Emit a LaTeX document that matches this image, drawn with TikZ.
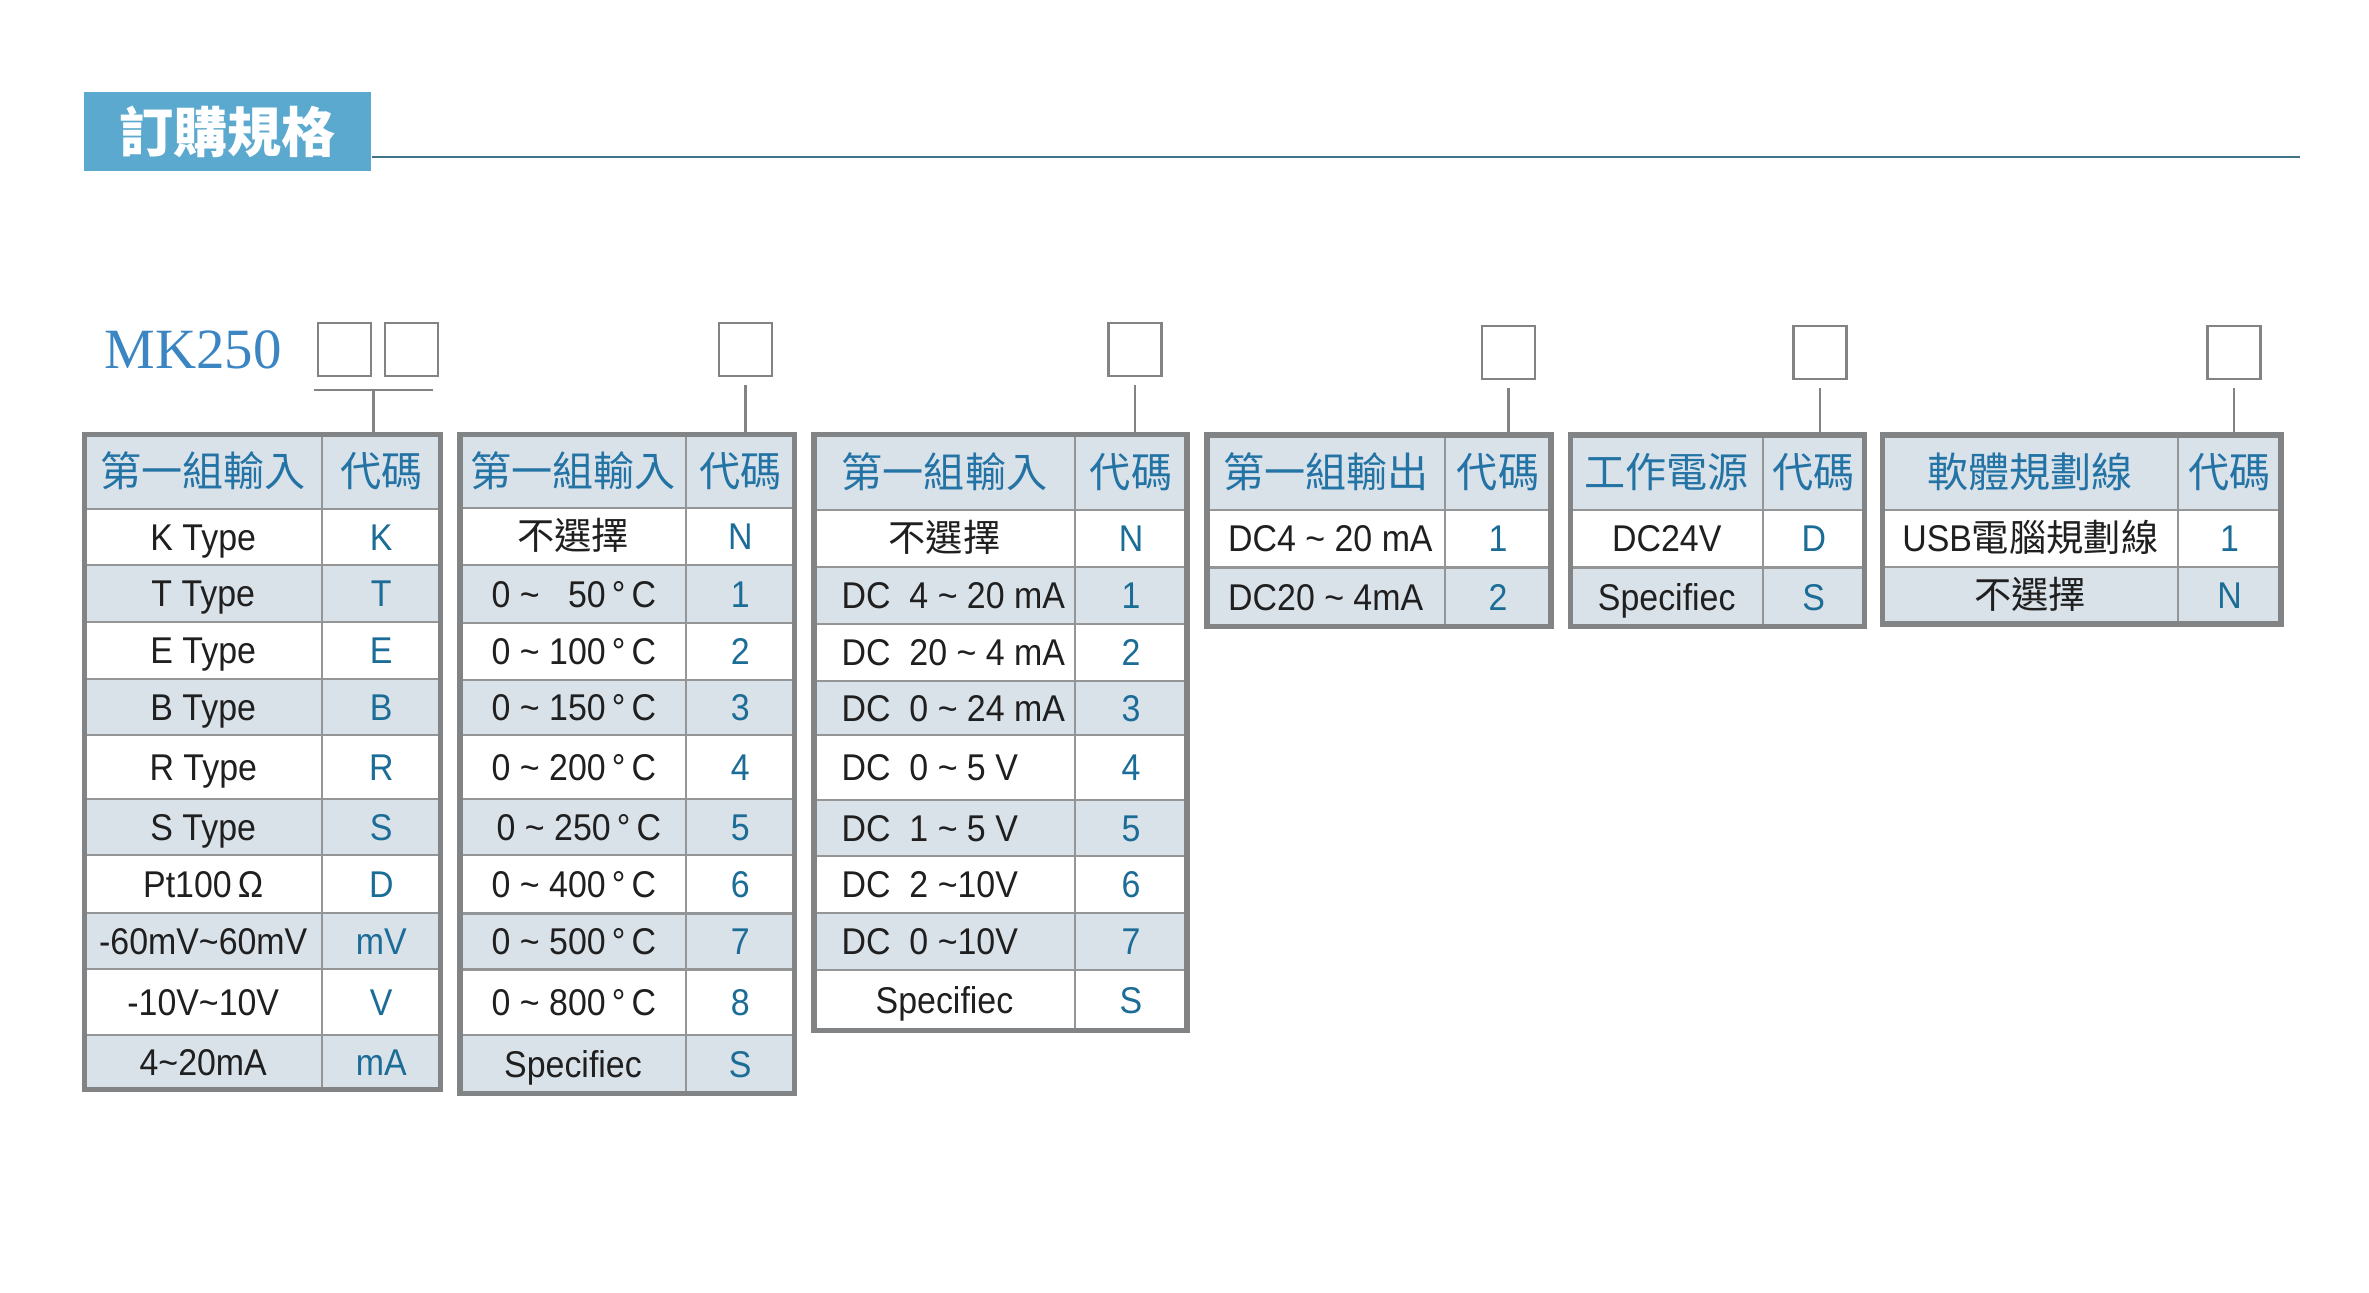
\documentclass[tikz,border=0pt]{standalone}
\usepackage{fontspec}
\setmainfont{Liberation Sans}[FakeStretch=0.91]
\newfontfamily\cjk{Noto Sans CJK TC}
\newfontfamily\mkfont{Liberation Serif}
\definecolor{titleblue}{HTML}{5CA9CF}
\definecolor{ruleteal}{HTML}{3F7488}
\definecolor{mkblue}{HTML}{3A85C2}
\definecolor{headblue}{HTML}{2373A5}
\definecolor{codeblue}{HTML}{1B6C96}
\definecolor{shade}{HTML}{D9E1E9}
\definecolor{framegray}{HTML}{818385}
\definecolor{gridgray}{HTML}{939597}
\newcommand{\tld}{\textasciitilde}
% one table row: name, fill, top, bottom, text x, anchor, text, code
\newcommand{\rowbox}[8]{%
  \filldraw[cellline, fill=#2] (\xl,#3) rectangle (\xm,#4);
  \filldraw[cellline, fill=#2] (\xm,#3) rectangle (\xr,#4);
  \node[datatext, anchor=#6] (#1) at (#5,{(#3+#4)/2+0.13}) {#7};
  \node[codetext] (#1c) at ({(\xm+\xr)/2},{(#3+#4)/2+0.13}) {#8};}
\newcommand{\crow}[6]{\rowbox{#1}{#2}{#3}{#4}{{(\xl+\xm)/2}}{base}{#5}{#6}}
\newcommand{\lrow}[6]{\rowbox{#1}{#2}{#3}{#4}{{\xl+\tpad}}{base west}{#5}{#6}}
\newcommand{\thead}[4]{%
  \filldraw[cellline, fill=shade] (\xl,#2) rectangle (\xm,#3);
  \filldraw[cellline, fill=shade] (\xm,#2) rectangle (\xr,#3);
  \node[headtext] (#1) at ({(\xl+\xm)/2},{(#2+#3)/2+0.15}) {#4};
  \node[headtext] (#1c) at ({(\xm+\xr)/2},{(#2+#3)/2+0.15}) {代碼};}

\begin{document}
\begin{tikzpicture}[y=-1cm,
    cellline/.style={draw=gridgray, line width=0.6pt},
    tblframe/.style={draw=framegray, line width=1.45pt},
    conn/.style={draw=framegray, line width=0.6pt},
    slot/.style={draw=framegray, line width=0.6pt, minimum size=0.53cm, inner sep=0},
    datatext/.style={inner sep=0, text=black!88, font=\fontsize{10.6}{12}\selectfont},
    codetext/.style={inner sep=0, anchor=base, text=codeblue, font=\fontsize{10.6}{12}\selectfont},
    headtext/.style={inner sep=0, anchor=base, text=headblue, font=\cjk\fontsize{11.7}{13}\selectfont},
    titlebox/.style={fill=titleblue, text=white, minimum width=2.87cm, minimum height=0.79cm,
      inner sep=0, font=\cjk\bfseries\fontsize{15.4}{18}\selectfont}]
  \useasboundingbox (0,0) rectangle (23.69,12.93);

  % heading
  \node[titlebox] (title) at (2.275,1.315) {訂購規格};
  \coordinate (ruleend) at (23.00,1.57);
  \draw[ruleteal, line width=0.45pt] (title.east |- ruleend) -- (ruleend);

  % model code and slots
  \node[inner sep=0, anchor=base west, text=mkblue, font=\mkfont\fontsize{16.2}{19}\selectfont]
    (model) at (1.04,3.68) {MK250};
  \node[slot] (b1) at (3.445,3.495) {};
  \node[slot] (b2) at (4.115,3.495) {};
  \node[slot] (b3) at (7.455,3.495) {};
  \node[slot] (b4) at (11.35,3.495) {};
  \node[slot] (b5) at (15.085,3.525) {};
  \node[slot] (b6) at (18.20,3.525) {};
  \node[slot] (b7) at (22.34,3.525) {};

  % table 1
  \def\xl{0.845}\def\xm{3.22}\def\xr{4.405}
  \thead{t1h}{4.345}{5.09}{第一組輸入}
  \crow{t1k}{white}{5.09}{5.65}{K Type}{K}
  \crow{t1t}{shade}{5.65}{6.22}{T Type}{T}
  \crow{t1e}{white}{6.22}{6.79}{E Type}{E}
  \crow{t1b}{shade}{6.79}{7.35}{B Type}{B}
  \crow{t1r}{white}{7.35}{7.99}{R Type}{R}
  \crow{t1s}{shade}{7.99}{8.55}{S Type}{S}
  \crow{t1d}{white}{8.55}{9.13}{Pt100\,Ω}{D}
  \crow{t1mv}{shade}{9.13}{9.69}{-60mV\tld60mV}{mV}
  \crow{t1v}{white}{9.69}{10.35}{-10V\tld10V}{V}
  \crow{t1ma}{shade}{10.35}{10.895}{4\tld20mA}{mA}
  \draw[tblframe] (\xl,4.345) rectangle (\xr,10.895);
  \coordinate (t1top) at (3.735,4.345);

  % table 2
  \def\xl{4.60}\def\xm{6.86}\def\xr{7.945}\def\tpad{0.31}
  \thead{t2h}{4.345}{5.08}{第一組輸入}
  \crow{t2n}{white}{5.08}{5.65}{\cjk 不選擇}{N}
  \lrow{t2a}{shade}{5.65}{6.23}{0 \tld{} \phantom{1}50\,°\,C}{1}
  \lrow{t2b}{white}{6.23}{6.80}{0 \tld{} 100\,°\,C}{2}
  \lrow{t2c}{shade}{6.80}{7.35}{0 \tld{} 150\,°\,C}{3}
  \lrow{t2d}{white}{7.35}{7.99}{0 \tld{} 200\,°\,C}{4}
  \lrow{t2e}{shade}{7.99}{8.55}{\hspace{0.05cm}0 \tld{} 250\,°\,C}{5}
  \lrow{t2f}{white}{8.55}{9.135}{0 \tld{} 400\,°\,C}{6}
  \lrow{t2g}{shade}{9.135}{9.695}{0 \tld{} 500\,°\,C}{7}
  \lrow{t2h}{white}{9.695}{10.35}{0 \tld{} 800\,°\,C}{8}
  \crow{t2s}{shade}{10.35}{10.935}{Specifiec}{S}
  \draw[tblframe] (\xl,4.345) rectangle (\xr,10.935);
  \coordinate (t2top) at (7.455,4.345);

  % table 3
  \def\xl{8.14}\def\xm{10.75}\def\xr{11.87}\def\tpad{0.27}
  \thead{t3h}{4.345}{5.10}{第一組輸入}
  \crow{t3n}{white}{5.10}{5.67}{\cjk 不選擇}{N}
  \lrow{t3a}{shade}{5.67}{6.24}{DC\ \ 4 \tld{} 20 mA}{1}
  \lrow{t3b}{white}{6.24}{6.81}{DC\ \ 20 \tld{} 4 mA}{2}
  \lrow{t3c}{shade}{6.81}{7.35}{DC\ \ 0 \tld{} 24 mA}{3}
  \lrow{t3d}{white}{7.35}{8.00}{DC\ \ 0 \tld{} 5 V}{4}
  \lrow{t3e}{shade}{8.00}{8.56}{DC\ \ 1 \tld{} 5 V}{5}
  \lrow{t3f}{white}{8.56}{9.13}{DC\ \ 2 \tld10V}{6}
  \lrow{t3g}{shade}{9.13}{9.70}{DC\ \ 0 \tld10V}{7}
  \crow{t3s}{white}{9.70}{10.305}{Specifiec}{S}
  \draw[tblframe] (\xl,4.345) rectangle (\xr,10.305);
  \coordinate (t3top) at (11.35,4.345);

  % table 4
  \def\xl{12.07}\def\xm{14.45}\def\xr{15.51}\def\tpad{0.205}
  \thead{t4h}{4.35}{5.10}{第一組輸出}
  \lrow{t4a}{white}{5.10}{5.675}{DC4 \tld{} 20 mA}{1}
  \lrow{t4b}{shade}{5.675}{6.265}{DC20 \tld{} 4mA}{2}
  \draw[tblframe] (\xl,4.35) rectangle (\xr,6.265);
  \coordinate (t4top) at (15.085,4.35);

  % table 5
  \def\xl{15.705}\def\xm{17.63}\def\xr{18.645}
  \thead{t5h}{4.35}{5.10}{工作電源}
  \crow{t5d}{white}{5.10}{5.675}{DC24V}{D}
  \crow{t5s}{shade}{5.675}{6.265}{Specifiec}{S}
  \draw[tblframe] (\xl,4.35) rectangle (\xr,6.265);
  \coordinate (t5top) at (18.20,4.35);

  % table 6
  \def\xl{18.825}\def\xm{21.78}\def\xr{22.81}
  \thead{t6h}{4.35}{5.10}{軟體規劃線}
  \crow{t6u}{white}{5.10}{5.67}{USB{\cjk 電腦規劃線}}{1}
  \crow{t6n}{shade}{5.67}{6.24}{\cjk 不選擇}{N}
  \draw[tblframe] (\xl,4.35) rectangle (\xr,6.24);
  \coordinate (t6top) at (22.34,4.35);

  % connectors
  \coordinate (barl) at (3.14,3.90);
  \coordinate (barr) at (4.33,3.90);
  \coordinate (barm) at (3.735,3.90);
  \draw[conn] (barl) -- (barr);
  \draw[conn] (barm) -- (t1top);
  \draw[conn, shorten <=0.08cm] (b3) -- (t2top);
  \draw[conn, shorten <=0.08cm] (b4) -- (t3top);
  \draw[conn, shorten <=0.08cm] (b5) -- (t4top);
  \draw[conn, shorten <=0.08cm] (b6) -- (t5top);
  \draw[conn, shorten <=0.08cm] (b7) -- (t6top);
\end{tikzpicture}
\end{document}
